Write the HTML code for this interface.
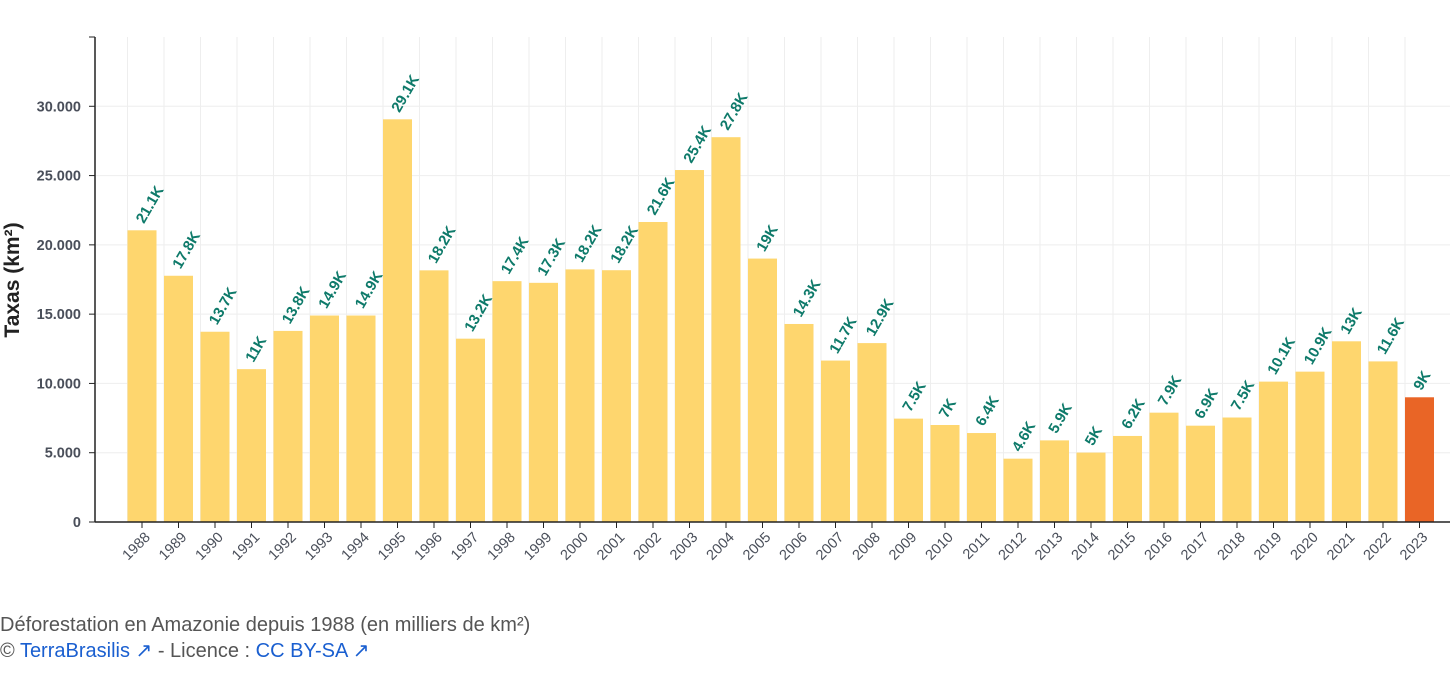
<!DOCTYPE html>
<html><head><meta charset="utf-8"><style>
body{margin:0;width:1450px;height:676px;background:#fff;font-family:"Liberation Sans",sans-serif;overflow:hidden;position:relative}
.cap{position:absolute;left:0;font-size:20px;color:#555}
.cap a{color:#1a5fd0;text-decoration:none}
</style></head><body>
<svg id="chart" width="1450" height="600" style="position:absolute;left:0;top:0"></svg>
<div class="cap" style="top:614px">Déforestation en Amazonie depuis 1988 (en milliers de km²)</div>
<div class="cap" style="top:638px">© <a>TerraBrasilis ↗</a> - Licence : <a>CC BY-SA ↗</a></div>
<script>
const years=[1988,1989,1990,1991,1992,1993,1994,1995,1996,1997,1998,1999,2000,2001,2002,2003,2004,2005,2006,2007,2008,2009,2010,2011,2012,2013,2014,2015,2016,2017,2018,2019,2020,2021,2022,2023];
const values=[21050,17770,13730,11030,13790,14900,14900,29060,18160,13230,17380,17260,18230,18170,21650,25400,27770,19010,14290,11650,12910,7460,7000,6420,4570,5890,5010,6210,7890,6950,7540,10130,10850,13040,11590,9000];
const labels=["21.1K","17.8K","13.7K","11K","13.8K","14.9K","14.9K","29.1K","18.2K","13.2K","17.4K","17.3K","18.2K","18.2K","21.6K","25.4K","27.8K","19K","14.3K","11.7K","12.9K","7.5K","7K","6.4K","4.6K","5.9K","5K","6.2K","7.9K","6.9K","7.5K","10.1K","10.9K","13K","11.6K","9K"];
const yTicks=[0,5000,10000,15000,20000,25000,30000];
const yTickLabels=["0","5.000","10.000","15.000","20.000","25.000","30.000"];
const NS="http://www.w3.org/2000/svg",svg=document.getElementById('chart');
const y0=522,yTop=37,yMax=35000,x0=127.5,step=36.5,bw=29;
const y=v=>y0-(v/yMax)*(y0-yTop);
const x=i=>x0+i*step;
function mk(t,a,txt){const e=document.createElementNS(NS,t);for(const k in a)e.setAttribute(k,a[k]);if(txt!=null)e.textContent=txt;svg.appendChild(e);return e;}
yTicks.forEach((v,i)=>{
 let g=mk('line',{x1:96,x2:1450,y1:y(v),y2:y(v),stroke:'#eee'});
 
 let t=mk('line',{x1:89,x2:95,y1:y(v),y2:y(v),stroke:'#222'});
 
 let l=mk('text',{x:81,y:y(v)+5,'text-anchor':'end','font-size':14.5,'font-weight':'bold',fill:'#4a4f5a'},yTickLabels[i]);
 
});
years.forEach((yr,i)=>{
 let g=mk('line',{x1:x(i),x2:x(i),y1:yTop,y2:y0,stroke:'#eee'});
 
});
years.forEach((yr,i)=>{
 const v=values[i],cx=x(i)+bw/2;
 let b=mk('rect',{x:x(i),y:y(v),width:bw,height:y0-y(v),fill:i===years.length-1?'#e96526':'#fed66e'});
 
 let vl=mk('text',{transform:`translate(${cx+2},${y(v)-6}) rotate(-60)`,'font-size':15,'font-weight':'bold',fill:'#0e7a6a'},labels[i]);
 
 let t=mk('line',{x1:cx,x2:cx,y1:y0,y2:y0+6,stroke:'#222'});
 
 let xl=mk('text',{transform:`translate(${cx+9},${y0+16}) rotate(-45)`,'text-anchor':'end','font-size':14.5,fill:'#4a4f5a'},yr);
 
});
let ya=mk('line',{x1:95,x2:95,y1:yTop,y2:y0,stroke:'#222','stroke-width':1.5});

let yt=mk('line',{x1:89,x2:95,y1:yTop,y2:yTop,stroke:'#222'});

let xa=mk('line',{x1:95,x2:1450,y1:y0,y2:y0,stroke:'#222','stroke-width':1.5});

let tt=mk('text',{transform:'translate(19,280) rotate(-90)','text-anchor':'middle','font-size':21,'font-weight':'bold',fill:'#222'},'Taxas (km²)');

</script>
</body></html>
